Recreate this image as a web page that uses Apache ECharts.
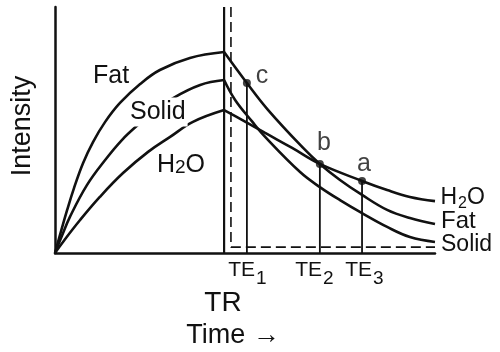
<!DOCTYPE html>
<html>
<head>
<meta charset="utf-8">
<script src="https://cdn.jsdelivr.net/npm/echarts@6/dist/echarts.min.js"></script>
<style>
  html, body { margin: 0; padding: 0; background: #fff; }
  #chart { width: 500px; height: 352px; }
</style>
</head>
<body>
<div id="chart"></div>
<script>
// time axis in arbitrary units 0..100, intensity in % 0..100
const TR = 44.5
const TE = [50.5, 69.7, 80.8]
const teNames = ['1', '2', '3']
const pointNames = ['c', 'b', 'a']
const pointValues = [69.1, 36.2, 29.3]
const dashX = 46.3
const dashY = 2.4

// T1 recovery, 0 -> TR
const fatRecovery = [[0, 0], [1.6, 8.9], [3.2, 17.5], [5.0, 26.4], [7.4, 36.6], [10.0, 45.1], [13.2, 53.3],
  [17.1, 61.0], [22.4, 68.7], [27.6, 74.4], [35.5, 79.3], [44.5, 81.7]]
const solidRecovery = [[0, 0], [1.8, 6.9], [3.9, 14.6], [8.4, 27.6], [13.2, 37.8], [17.6, 45.9], [21.8, 52.0],
  [26.3, 57.7], [31.1, 63.0], [38.2, 68.3], [44.5, 70.3]]
const waterRecovery = [[0, 0], [2.1, 4.5], [6.6, 13.4], [11.8, 22.8], [17.9, 32.5], [24.5, 41.1],
  [30.3, 47.2], [36.3, 53.3], [44.5, 58.1]]

// T2 decay, TR -> end
const fatDecay = [[44.5, 81.7], [50.5, 69.1], [56.1, 58.1], [65.3, 42.7], [69.7, 36.2], [75.0, 29.7],
  [80.8, 23.6], [87.4, 17.5], [93.4, 14.2], [100, 11.8]]
const waterDecay = [[44.5, 58.1], [49.2, 54.1], [55.3, 48.8], [62.4, 42.7], [69.7, 36.2], [80.8, 29.3],
  [87.4, 25.6], [93.4, 22.8], [100, 21.1]]
const solidDecay = [[44.5, 70.3], [47.4, 62.2], [51.8, 53.6], [55.3, 47.2], [64.5, 32.9], [69.7, 26.8],
  [75.0, 21.5], [80.8, 16.2], [87.4, 10.6], [93.4, 6.5], [100, 4.5]]

const FONT = '"Liberation Sans", Arial, Helvetica, sans-serif'
const INK = '#111'

const curve = (data) => ({
  type: 'line',
  data,
  smooth: 0.4,
  symbol: 'none',
  silent: true,
  lineStyle: { color: INK, width: 2.6 },
  z: 3,
})

const straight = (data, width, type) => ({
  type: 'line',
  data,
  symbol: 'none',
  silent: true,
  lineStyle: { color: INK, width, type: type || 'solid' },
  z: 2,
})

const text = (x, y, str, size, extra, rotation) => ({
  type: 'text',
  x, y,
  rotation: rotation || 0,
  silent: true,
  z: 10,
  style: Object.assign({
    text: str,
    font: size + 'px ' + FONT,
    fill: INK,
    align: 'left',
    verticalAlign: 'middle',
  }, extra || {}),
})

// 下标文字：主文字右对齐于 x，下标左对齐
const subText = (x, y, main, sub, size, subSize, drop) => [
  text(x, y, main, size, { align: 'right' }),
  text(x + 1, y + drop, sub, subSize),
]

const chart = echarts.init(document.getElementById('chart'))

const series = [
  curve(fatRecovery), curve(solidRecovery), curve(waterRecovery),
  curve(fatDecay), curve(solidDecay), curve(waterDecay),
  straight([[TR, 0], [TR, 100]], 2.2),
  straight([[dashX, 100], [dashX, dashY], [100, dashY]], 1.6, [10, 5]),
]
TE.forEach((te, i) => {
  series.push(straight([[te, 0], [te, pointValues[i]]], 1.8))
})

const labelOffsets = [[15, -7], [4, -21], [2, -17]]
series.push({
  type: 'scatter',
  symbolSize: 8,
  itemStyle: { color: INK },
  z: 5,
  data: TE.map((te, i) => ({
    value: [te, pointValues[i]],
    name: pointNames[i],
    label: {
      show: true,
      formatter: pointNames[i],
      position: 'inside',
      offset: labelOffsets[i],
      fontFamily: FONT,
      fontSize: 25,
      color: INK,
    },
  })),
})

const graphics = [
  text(23, 126, 'Intensity', 27, { align: 'center' }, Math.PI / 2),
  text(93, 76, 'Fat', 25),
  text(128, 112, 'Solid', 25, { backgroundColor: '#fff', padding: [2, 2] }),
  {
    type: 'text',
    x: 157, y: 165,
    z: 10,
    silent: true,
    style: {
      text: '{h|H}{d|2}{h|O}',
      verticalAlign: 'middle',
      rich: {
        h: { font: '25px ' + FONT, fill: INK, verticalAlign: 'bottom' },
        d: { font: '19px ' + FONT, fill: INK, verticalAlign: 'bottom' },
      },
    },
  },
  ...subText(457, 198, 'H', '2', 23, 16, 6),
  text(467, 198, 'O', 23),
  text(441, 221, 'Fat', 24),
  text(441, 245, 'Solid', 23),
  ...subText(255, 270, 'TE', teNames[0], 21, 19, 9),
  ...subText(322, 270, 'TE', teNames[1], 21, 19, 9),
  ...subText(372, 270, 'TE', teNames[2], 21, 19, 9),
  text(223, 303, 'TR', 28, { align: 'center' }),
  text(233, 336, 'Time \u2192', 27, { align: 'center' }),
]

chart.setOption({
  animation: false,
  backgroundColor: '#fff',
  grid: { left: 55, right: 65, top: 7, bottom: 99 },
  xAxis: {
    type: 'value',
    min: 0,
    max: 100,
    axisLine: { lineStyle: { color: INK, width: 2.5 } },
    axisTick: { show: false },
    axisLabel: { show: false },
    splitLine: { show: false },
  },
  yAxis: {
    type: 'value',
    min: 0,
    max: 100,
    axisLine: { show: true, lineStyle: { color: INK, width: 2.5 } },
    axisTick: { show: false },
    axisLabel: { show: false },
    splitLine: { show: false },
  },
  series,
  graphic: graphics,
})
</script>
</body>
</html>
